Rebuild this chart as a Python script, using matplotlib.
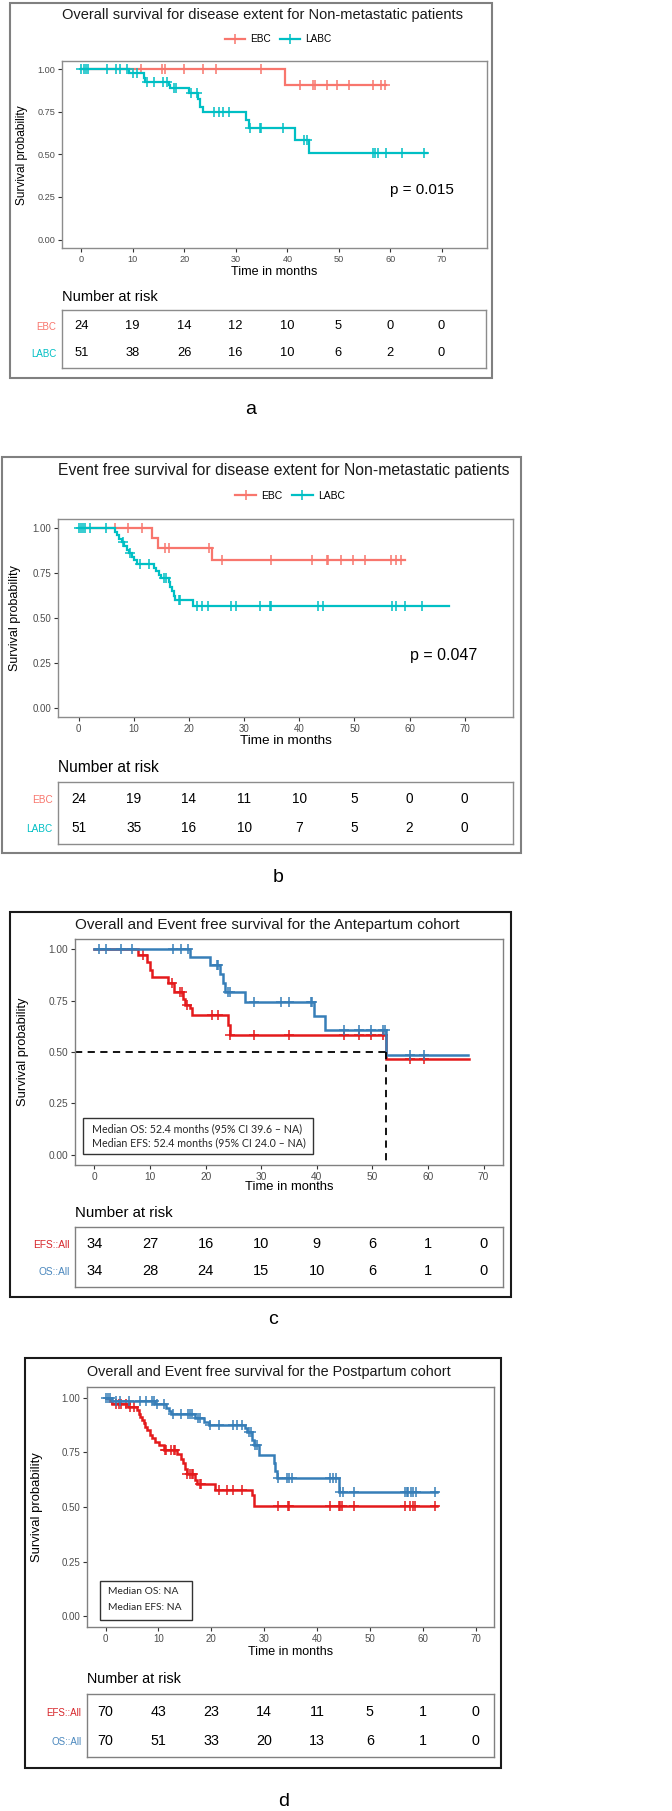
import numpy as np
import matplotlib
matplotlib.use("Agg")
import matplotlib.pyplot as plt
from matplotlib.patches import Rectangle
from matplotlib.lines import Line2D

plt.rcParams['font.family'] = ['Liberation Sans', 'DejaVu Sans']

# ---------------- DATA ----------------
months_ticks = [0, 10, 20, 30, 40, 50, 60, 70]
surv_ticks = [0.0, 0.25, 0.5, 0.75, 1.0]

# Panel a: overall survival, EBC vs LABC
a_ebc_t = [0, 39.5]
a_ebc_s = [1.0, 0.911]
a_ebc_end = 59.2
a_ebc_cens = [11.5, 15.7, 16.2, 19.9, 23.7, 26.1, 34.8, 42.4, 45.0, 45.3, 47.6, 49.7, 52.0, 56.7, 58.1, 58.9]
a_labc_t = [0, 9.3, 12.1, 12.4, 17.0, 17.3, 20.9, 22.7, 23.1, 23.6, 31.9, 32.5, 41.5, 44.2]
a_labc_s = [1.0, 0.979, 0.95, 0.926, 0.91, 0.893, 0.859, 0.824, 0.781, 0.75, 0.703, 0.655, 0.587, 0.51]
a_labc_end = 67.1
a_labc_cens = [0, 0.5, 1.0, 1.3, 5.0, 6.7, 7.6, 8.9, 10.0, 10.8, 12.8, 14.2, 15.8, 16.7, 17.9, 18.4,
               21.3, 22.4, 25.7, 26.7, 27.5, 28.6, 32.7, 34.7, 34.9, 39.2, 43.2, 43.9,
               56.7, 57.1, 57.5, 59.2, 62.3, 66.6]
a_risk_ebc = [24, 19, 14, 12, 10, 5, 0, 0]
a_risk_labc = [51, 38, 26, 16, 10, 6, 2, 0]
a_pvalue = "p = 0.015"

# Panel b: event free survival, EBC vs LABC
b_ebc_t = [0, 13.3, 14.3, 24.2]
b_ebc_s = [1.0, 0.945, 0.889, 0.823]
b_ebc_end = 59.2
b_ebc_cens = [6.6, 9.0, 11.4, 15.7, 16.3, 23.7, 26.0, 34.9, 42.3, 45.0, 45.2, 47.6, 49.8, 52.0, 56.6, 57.5, 58.4]
b_labc_t = [0, 6.6, 7.0, 7.4, 7.8, 8.2, 8.7, 9.2, 9.6, 10.1, 10.6, 13.6, 14.0, 14.5, 15.0,
            16.3, 16.6, 16.9, 17.2, 17.5, 20.8]
b_labc_s = [1.0, 0.98, 0.96, 0.94, 0.92, 0.90, 0.88, 0.86, 0.84, 0.82, 0.80, 0.78, 0.76, 0.74, 0.72,
            0.70, 0.675, 0.65, 0.625, 0.60, 0.565]
b_labc_end = 67.2
b_labc_cens = [0, 0.5, 0.8, 1.1, 2.1, 5.0, 8.0, 9.3, 11.1, 12.7, 15.4, 15.8, 18.1, 18.4,
               21.4, 22.3, 23.5, 27.7, 28.6, 32.8, 34.6, 34.9, 43.4, 44.3, 56.8, 57.6, 59.2, 62.3]
b_risk_ebc = [24, 19, 14, 11, 10, 5, 0, 0]
b_risk_labc = [51, 35, 16, 10, 7, 5, 2, 0]
b_pvalue = "p = 0.047"

# Panel c: Antepartum cohort, OS and EFS
c_os_t = [0, 17.1, 20.8, 22.6, 23.1, 23.5, 27.1, 39.5, 41.4, 52.4]
c_os_s = [1.0, 0.961, 0.922, 0.88, 0.835, 0.79, 0.745, 0.676, 0.607, 0.485]
c_os_end = 67.2
c_os_cens = [0.9, 2.1, 4.8, 6.7, 14.2, 15.6, 16.8, 22.0, 22.3, 24.0, 24.4, 28.7, 33.5, 35.0,
             38.9, 39.2, 44.9, 47.6, 49.8, 52.0, 52.3, 56.7, 59.2]
c_efs_t = [0, 7.8, 9.4, 10.0, 10.3, 13.3, 14.3, 15.9, 16.3, 17.1, 17.5, 24.0, 24.3, 52.4]
c_efs_s = [1.0, 0.971, 0.94, 0.90, 0.867, 0.834, 0.793, 0.76, 0.728, 0.712, 0.68, 0.63, 0.582, 0.465]
c_efs_end = 67.4
c_efs_cens = [8.8, 13.9, 15.4, 15.7, 16.6, 21.1, 22.3, 24.4, 28.7, 35.0, 44.9, 47.6, 49.8, 52.0, 56.7, 59.2]
c_risk_efs = [34, 27, 16, 10, 9, 6, 1, 0]
c_risk_os = [34, 28, 24, 15, 10, 6, 1, 0]
c_median = 52.4
c_median_text = ["Median OS: 52.4 months (95% CI 39.6 \u2013 NA)",
                 "Median EFS: 52.4 months (95% CI 24.0 \u2013 NA)"]

# Panel d: Postpartum cohort, OS and EFS
d_os_t = [0, 1.3, 9.4, 11.5, 12.0, 12.4, 16.9, 18.6, 19.5, 26.4, 26.7, 27.7, 28.0, 29.1, 31.8, 32.1, 32.4, 44.2]
d_os_s = [1.0, 0.985, 0.97, 0.955, 0.94, 0.925, 0.906, 0.89, 0.875, 0.86, 0.845, 0.807, 0.784, 0.74,
          0.70, 0.665, 0.632, 0.57]
d_os_end = 62.7
d_os_cens = [0, 0.4, 0.9, 1.9, 2.8, 4.4, 6.6, 7.6, 8.8, 9.1, 9.8, 11.0, 12.8, 14.2, 15.7, 16.0, 16.4,
             17.5, 17.8, 19.8, 21.4, 24.2, 24.9, 25.8, 27.1, 27.5, 28.3, 28.6, 32.7, 34.4, 34.8, 35.2,
             42.5, 43.1, 43.7, 44.4, 44.9, 47.0, 56.6, 57.0, 57.3, 57.8, 58.2, 58.7, 62.3]
d_efs_t = [0, 0.9, 1.3, 4.3, 6.0, 6.3, 6.6, 6.9, 7.2, 7.5, 7.9, 8.5, 8.8, 9.4, 10.1, 11.0, 13.5, 14.2,
           14.7, 15.1, 15.4, 17.0, 17.4, 20.8, 27.7, 28.1]
d_efs_s = [1.0, 0.985, 0.972, 0.958, 0.944, 0.928, 0.913, 0.898, 0.883, 0.868, 0.852, 0.83, 0.814, 0.80,
           0.784, 0.761, 0.741, 0.72, 0.70, 0.674, 0.65, 0.624, 0.604, 0.578, 0.555, 0.505]
d_efs_end = 62.7
d_efs_cens = [1.9, 2.5, 3.0, 3.8, 4.6, 5.4, 11.2, 11.5, 12.3, 12.9, 13.2, 15.5, 15.9, 16.3, 16.6, 17.8,
              18.1, 21.4, 23.0, 24.2, 25.8, 32.7, 34.6, 34.8, 42.5, 44.1, 44.4, 44.7, 47.0, 56.6,
              57.6, 58.1, 58.6, 62.3]
d_risk_efs = [70, 43, 23, 14, 11, 5, 1, 0]
d_risk_os = [70, 51, 33, 20, 13, 6, 1, 0]
d_median_text = ["Median OS: NA", "Median EFS: NA"]

titles = ["Overall survival for disease extent for Non-metastatic patients",
          "Event free survival for disease extent for Non-metastatic patients",
          "Overall and Event free survival for the Antepartum cohort",
          "Overall and Event free survival for the Postpartum cohort"]
group_ab = ["EBC", "LABC"]
group_cd = ["EFS::All", "OS::All"]
panel_letters = ["a", "b", "c", "d"]

# ---------------- STYLE ----------------
C_EBC, C_LABC = "#F8766D", "#00BFC4"
C_EFS, C_OS = "#E41A1C", "#377EB8"
C_EFS_LBL, C_OS_LBL = "#D7262B", "#4A87BD"

W, H = 672, 1811
fig = plt.figure(figsize=(W / 100, H / 100), dpi=100)


def ax_px(l, t, r, b):
    return fig.add_axes([l / W, 1 - b / H, (r - l) / W, (b - t) / H])


def ftxt(x, y, s, **kw):
    fig.text(x / W, 1 - y / H, s, **kw)


def frame(l, t, r, b, color, lw):
    fig.add_artist(Rectangle((l / W, 1 - b / H), (r - l) / W, (b - t) / H, transform=fig.transFigure,
                             fill=False, edgecolor=color, linewidth=lw))


def km(ax, t, s, end, cens, color, lw=1.6, ms=6.5):
    t = np.asarray(t, float)
    s = np.asarray(s, float)
    xs = np.append(t, end)
    ys = np.append(s, s[-1])
    ax.step(xs, ys, where='post', color=color, lw=lw, solid_joinstyle='miter')
    c = np.asarray(cens, float)
    cy = s[np.searchsorted(t, c, side='right') - 1]
    ax.plot(c, cy, linestyle='none', marker='+', color=color, markersize=ms, mew=1.1)


def style_main(ax, xlim, spine_col, fs):
    ax.set_xlim(*xlim)
    ax.set_ylim(-0.05, 1.05)
    ax.set_xticks(months_ticks)
    ax.set_yticks(surv_ticks)
    ax.set_yticklabels([f"{v:.2f}" for v in surv_ticks])
    for sp in ax.spines.values():
        sp.set_color(spine_col)
        sp.set_linewidth(1.0)
    ax.tick_params(length=3, width=0.8, color='#333333', labelcolor='#4D4D4D', labelsize=fs, pad=2)


def risk_table(ax, xlim, rows, labels, label_colors, spine_col, fs, lfs):
    ax.set_xlim(*xlim)
    ax.set_ylim(0, 1)
    ypos = [0.72, 0.26]
    for vals, y in zip(rows, ypos):
        for x, v in zip(months_ticks, vals):
            ax.text(x, y, str(v), ha='center', va='center', fontsize=fs, color='black')
    ax.set_xticks([])
    ax.set_yticks(ypos)
    ax.set_yticklabels(labels, fontsize=lfs)
    for tl, c in zip(ax.get_yticklabels(), label_colors):
        tl.set_color(c)
    ax.tick_params(axis='y', length=0, pad=4)
    for sp in ax.spines.values():
        sp.set_color(spine_col)
        sp.set_linewidth(1.0)


def legend_ab(x, y, fs):
    handles = [Line2D([], [], color=C_EBC, lw=1.6, marker='+', markersize=6.5, mew=1.1),
               Line2D([], [], color=C_LABC, lw=1.6, marker='+', markersize=6.5, mew=1.1)]
    fig.legend(handles, group_ab, loc='center', bbox_to_anchor=(x / W, 1 - y / H), ncol=2, frameon=False,
               fontsize=fs, handlelength=2.0, columnspacing=0.9, handletextpad=0.5, numpoints=1)


XL_AB = (-3.75, 78.75)
XL_CD = (-3.5, 73.5)

# ---------------- PANEL A ----------------
frame(10, 3, 492, 378, '#808080', 1.5)
ftxt(262, 15, titles[0], ha='center', va='center', fontsize=10.5, color='#1A1A1A')
legend_ab(278, 39, 7.2)
ax = ax_px(62, 61, 487, 248)
km(ax, a_ebc_t, a_ebc_s, a_ebc_end, a_ebc_cens, C_EBC)
km(ax, a_labc_t, a_labc_s, a_labc_end, a_labc_cens, C_LABC)
style_main(ax, XL_AB, '#8C8C8C', 6.6)
ax.text(60, 0.29, a_pvalue, ha='left', va='center', fontsize=11)
ftxt(22, 155, "Survival probability", rotation=90, ha='center', va='center', fontsize=8.6)
ftxt(274, 272, "Time in months", ha='center', va='center', fontsize=9.1)
ftxt(62, 297, "Number at risk", ha='left', va='center', fontsize=10.5)
rax = ax_px(62, 310, 486, 368)
risk_table(rax, XL_AB, [a_risk_ebc, a_risk_labc], group_ab, [C_EBC, C_LABC], '#8C8C8C', 9.3, 7.0)
ftxt(251, 410, panel_letters[0], ha='center', va='center', fontsize=14)

# ---------------- PANEL B ----------------
frame(2, 457, 521, 853, '#808080', 1.5)
ftxt(284, 471, titles[1], ha='center', va='center', fontsize=11.3, color='#1A1A1A')
legend_ab(290, 496, 7.5)
ax = ax_px(58, 519, 513, 717)
km(ax, b_ebc_t, b_ebc_s, b_ebc_end, b_ebc_cens, C_EBC)
km(ax, b_labc_t, b_labc_s, b_labc_end, b_labc_cens, C_LABC)
style_main(ax, XL_AB, '#8C8C8C', 7.0)
ax.text(60, 0.29, b_pvalue, ha='left', va='center', fontsize=11.5)
ftxt(15, 618, "Survival probability", rotation=90, ha='center', va='center', fontsize=9.0)
ftxt(286, 741, "Time in months", ha='center', va='center', fontsize=9.7)
ftxt(58, 767, "Number at risk", ha='left', va='center', fontsize=11.2)
rax = ax_px(58, 782, 513, 844)
risk_table(rax, XL_AB, [b_risk_ebc, b_risk_labc], group_ab, [C_EBC, C_LABC], '#8C8C8C', 9.8, 7.2)
ftxt(278, 878, panel_letters[1], ha='center', va='center', fontsize=14)

# ---------------- PANEL C ----------------
frame(10, 912, 511, 1297, '#1A1A1A', 1.5)
ftxt(267, 925, titles[2], ha='center', va='center', fontsize=11.0, color='#1A1A1A')
ax = ax_px(75, 939, 503, 1165)
km(ax, c_efs_t, c_efs_s, c_efs_end, c_efs_cens, C_EFS, lw=1.8)
km(ax, c_os_t, c_os_s, c_os_end, c_os_cens, C_OS, lw=1.8)
ax.plot([XL_CD[0], c_median], [0.5, 0.5], color='black', lw=1.3, dashes=(4, 3))
ax.plot([c_median, c_median], [0.5, -0.03], color='black', lw=1.3, dashes=(4, 3))
style_main(ax, XL_CD, '#808080', 7.3)
ftxt(23, 1052, "Survival probability", rotation=90, ha='center', va='center', fontsize=9.3)
ftxt(289, 1187, "Time in months", ha='center', va='center', fontsize=9.4)
ftxt(75, 1213, "Number at risk", ha='left', va='center', fontsize=10.8)
fig.add_artist(Rectangle((83 / W, 1 - 1154 / H), (313 - 83) / W, (1154 - 1118) / H, transform=fig.transFigure,
                         facecolor='white', edgecolor='#333333', linewidth=1.0))
ftxt(92, 1129, c_median_text[0], ha='left', va='center', fontsize=7.7, family=['Lato', 'DejaVu Sans'], color='#262626')
ftxt(92, 1143, c_median_text[1], ha='left', va='center', fontsize=7.7, family=['Lato', 'DejaVu Sans'], color='#262626')
rax = ax_px(75, 1227, 503, 1287)
risk_table(rax, XL_CD, [c_risk_efs, c_risk_os], group_cd, [C_EFS_LBL, C_OS_LBL], '#808080', 10.5, 7.3)
ftxt(273, 1320, panel_letters[2], ha='center', va='center', fontsize=14)

# ---------------- PANEL D ----------------
frame(25, 1358, 501, 1768, '#1A1A1A', 1.5)
ftxt(269, 1372, titles[3], ha='center', va='center', fontsize=10.4, color='#1A1A1A')
ax = ax_px(87, 1387, 494, 1627)
km(ax, d_efs_t, d_efs_s, d_efs_end, d_efs_cens, C_EFS, lw=1.8)
km(ax, d_os_t, d_os_s, d_os_end, d_os_cens, C_OS, lw=1.8)
style_main(ax, XL_CD, '#808080', 7.0)
ftxt(37, 1507, "Survival probability", rotation=90, ha='center', va='center', fontsize=9.4)
ftxt(291, 1652, "Time in months", ha='center', va='center', fontsize=9.0)
ftxt(87, 1679, "Number at risk", ha='left', va='center', fontsize=10.4)
fig.add_artist(Rectangle((100 / W, 1 - 1620 / H), (192 - 100) / W, (1620 - 1581) / H, transform=fig.transFigure,
                         facecolor='white', edgecolor='#333333', linewidth=1.0))
ftxt(108, 1592, d_median_text[0], ha='left', va='center', fontsize=7.4, family=['Lato', 'DejaVu Sans'], color='#262626')
ftxt(108, 1608, d_median_text[1], ha='left', va='center', fontsize=7.4, family=['Lato', 'DejaVu Sans'], color='#262626')
rax = ax_px(87, 1694, 494, 1757)
risk_table(rax, XL_CD, [d_risk_efs, d_risk_os], group_cd, [C_EFS_LBL, C_OS_LBL], '#808080', 10.3, 7.0)
ftxt(284, 1802, panel_letters[3], ha='center', va='center', fontsize=14)

fig.savefig("out.png", dpi=100)
